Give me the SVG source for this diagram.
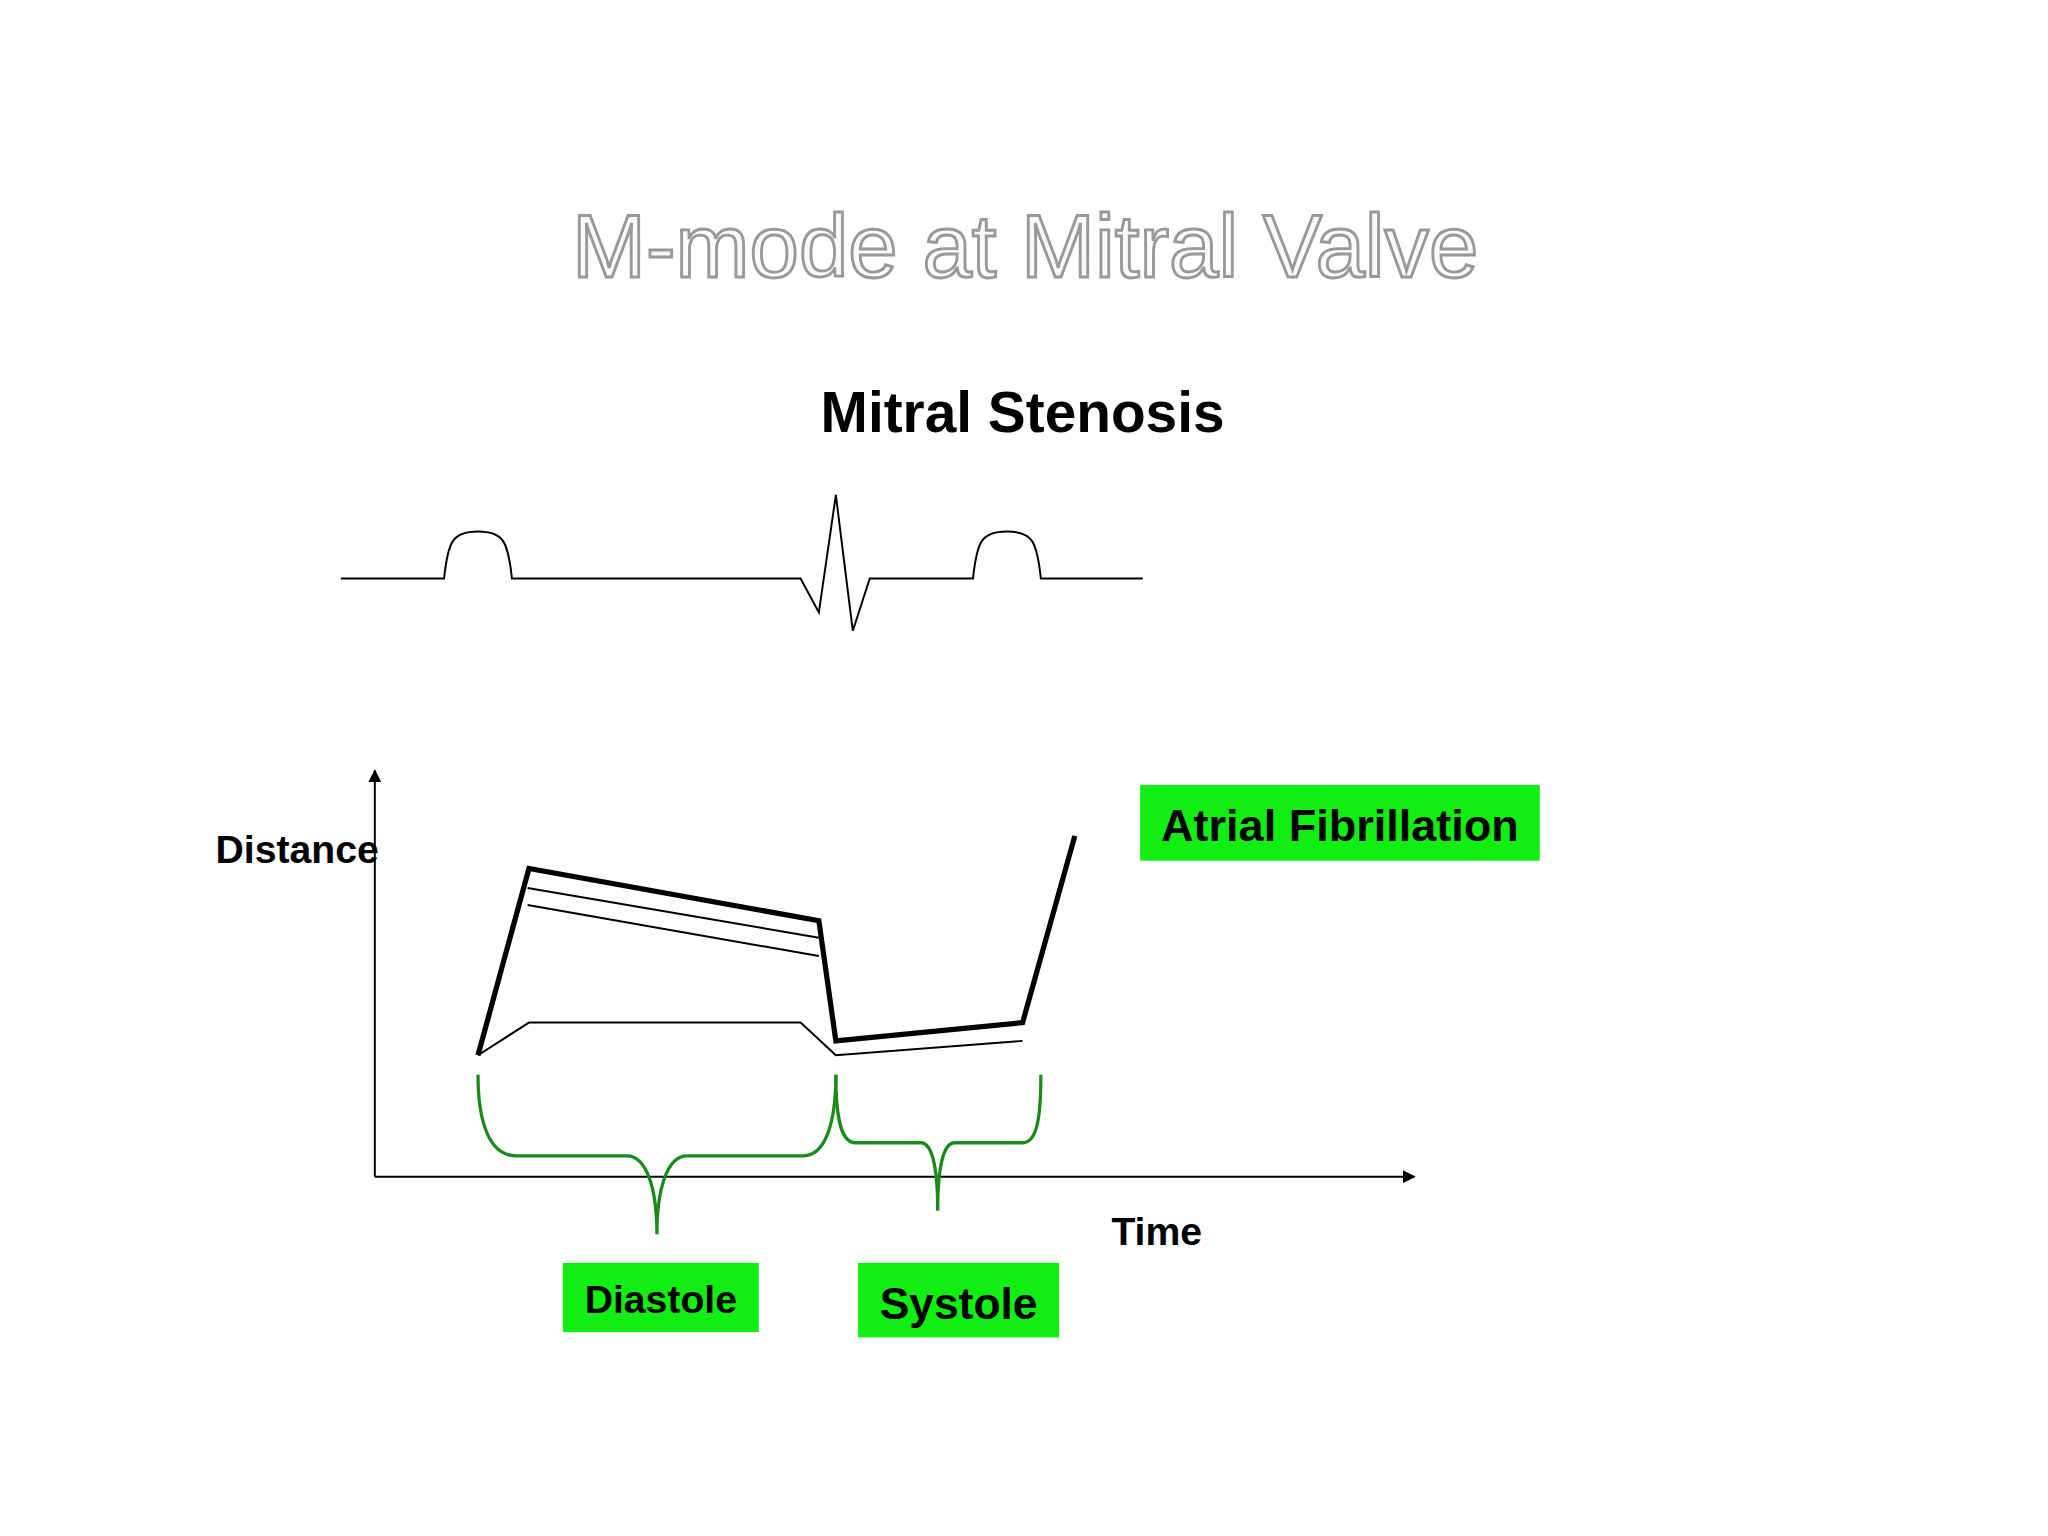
<svg xmlns="http://www.w3.org/2000/svg" width="2048" height="1536" viewBox="0 0 2048 1536">
<style>
.t{font-family:"Liberation Sans",Arial,sans-serif;font-weight:bold}
.ln{fill:none;stroke:#000;stroke-linejoin:miter}
.br{fill:none;stroke:#1a8a1a;stroke-width:2.5}
.box{fill:#11ee11}
</style>
<defs><marker id="ar" markerWidth="10" markerHeight="10" refX="9" refY="5" orient="auto" markerUnits="userSpaceOnUse"><path d="M0,0L10,5L0,10z" fill="#000"/></marker></defs>
<rect width="2048" height="1536" fill="#fff"/>
<g transform="scale(1.306)">
<g id="title"><text class="t" x="785" y="212" font-size="68" text-anchor="middle" fill="#fafafa" stroke="#999" stroke-width="2.2" style="font-weight:normal">M-mode at Mitral Valve</text></g>
<g id="subtitle"><text class="t" x="783" y="331" font-size="43.5" text-anchor="middle">Mitral Stenosis</text></g>
<g id="ecg"><path class="ln" stroke-width="1.5" d="M261,443H340C343,415 346,407 366,407C386,407 389,415 392,443H613L627,469L640,379L653,483L666,443H745C748,415 751,407 771,407C791,407 794,415 797,443H875"/></g>
<g id="connectors">
<line class="ln" stroke-width="1.5" x1="287" y1="901" x2="287" y2="590" marker-end="url(#ar)"/>
<line class="ln" stroke-width="1.5" x1="287" y1="901" x2="1083" y2="901" marker-end="url(#ar)"/>
</g>
<g id="mmode">
<path class="ln" stroke-width="4" d="M366,808L405,665L627,705L640,797L783,783L823,640"/>
<path class="ln" stroke-width="1.5" d="M404,680L627,718M404,693L627,732M366,808L405,783H613L640,808L783,797"/>
</g>
<g id="braces">
<path class="br" d="M366,823C366,860 375,885 395,885H480C495,885 503,910 503,945C503,910 511,885 526,885H615C632,885 640,860 640,823"/>
<path class="br" d="M640,823C640,860 645,875 655,875H705C714,875 718,895 718,927C718,895 722,875 731,875H783C793,875 797,860 797,823"/>
</g>
<g id="distance"><text class="t" x="165" y="661" font-size="30">Distance</text></g>
<g id="time"><text class="t" x="851" y="953" font-size="30">Time</text></g>
<g id="af"><rect class="box" x="873" y="601" width="306" height="58"/><text class="t" x="1026" y="644" font-size="34.5" text-anchor="middle">Atrial Fibrillation</text></g>
<g id="diastole"><rect class="box" x="431" y="967" width="150" height="53"/><text class="t" x="506" y="1005" font-size="30" text-anchor="middle">Diastole</text></g>
<g id="systole"><rect class="box" x="657" y="967" width="154" height="57"/><text class="t" x="734" y="1010" font-size="34" text-anchor="middle">Systole</text></g>
</g>
</svg>
